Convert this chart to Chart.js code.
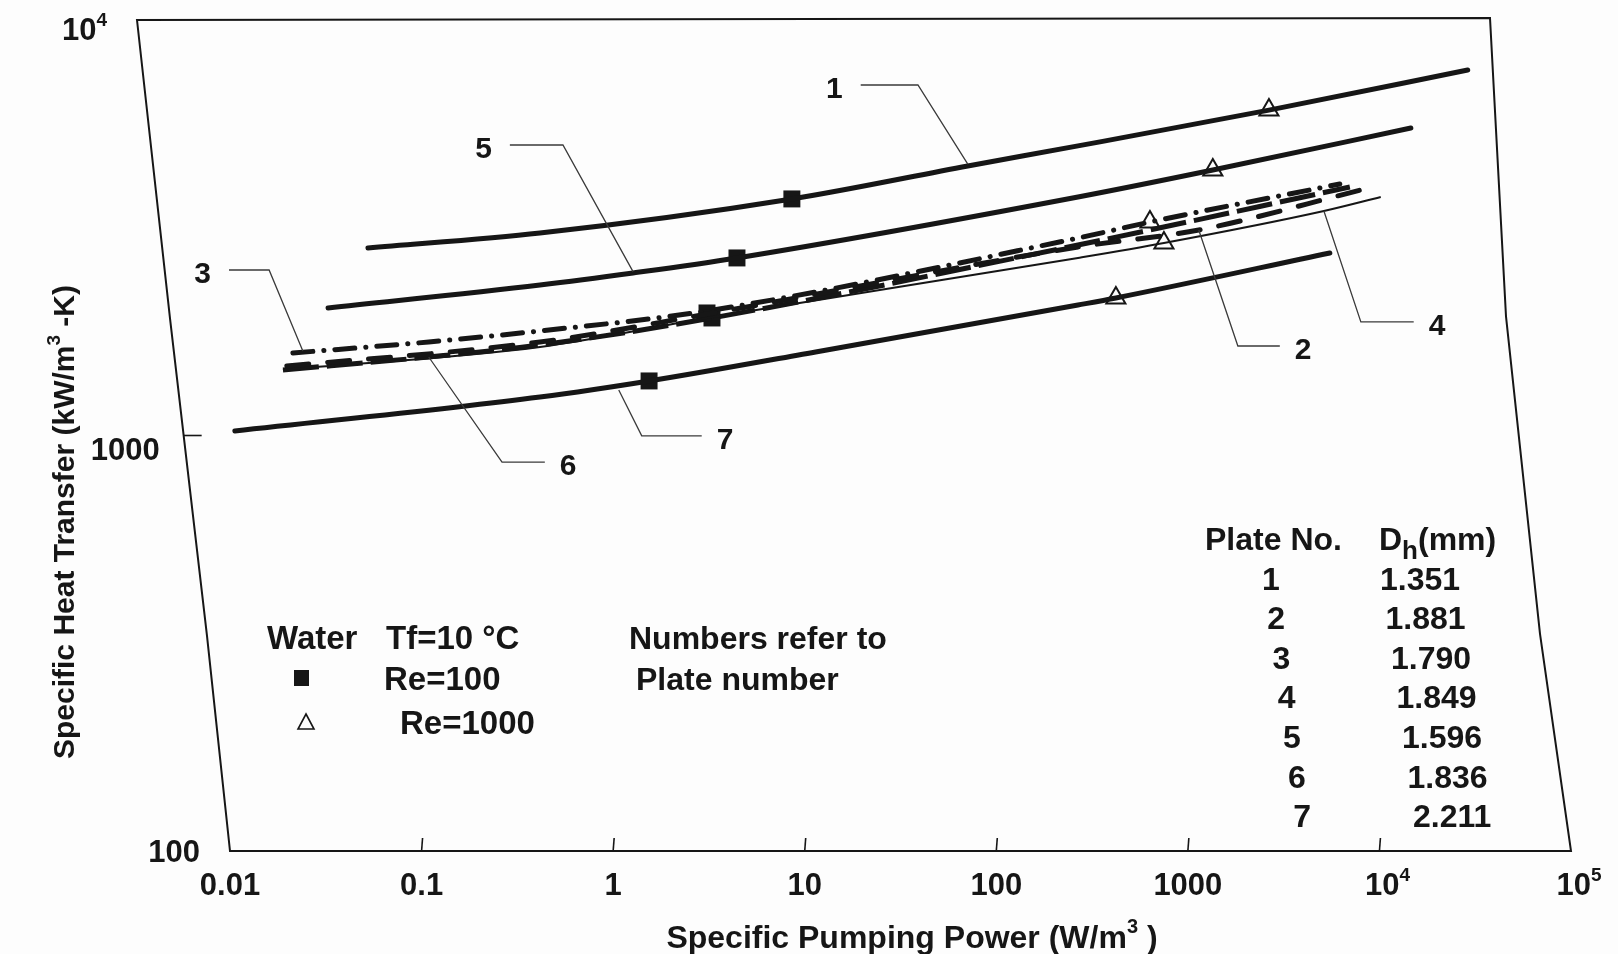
<!DOCTYPE html>
<html>
<head>
<meta charset="utf-8">
<title>Specific heat transfer vs pumping power</title>
<script src="https://cdn.jsdelivr.net/npm/chart.js@4.4.1/dist/chart.umd.min.js"></script>
<style>
  html, body { margin: 0; padding: 0; background: #fdfdfd; }
  #grafico { display: block; }
</style>
</head>
<body>
<canvas id="grafico" width="1618" height="954"></canvas>
<script>
// Curves (x = W/m3, y = kW/m3-K)
const plate1X = [0.0525, 0.415, 8.57, 71, 267, 2650, 28900];
const plate1Y = [2826, 3072, 3710, 4453, 4977, 6070, 7580];
const plate5X = [0.0325, 0.415, 1.27, 4.43, 267, 1350, 14590];
const plate5Y = [2028, 2302, 2461, 2675, 3750, 4355, 5497];
const plate3X = [0.0213, 0.109, 0.415, 3.09, 267, 634, 6210];
const plate3Y = [1580, 1679, 1785, 1994, 2987, 3264, 4030];
const plate2X = [0.0198, 0.415, 3.09, 267, 1140, 8000];
const plate2Y = [1469, 1679, 1960, 2843, 3123, 3898];
const plate6X = [0.0189, 0.109, 0.415, 3.28, 267, 7010];
const plate6Y = [1438, 1545, 1651, 1918, 2873, 3963];
const plate4X = [0.0189, 0.415, 3.09, 267, 750, 5130, 10160];
const plate4Y = [1438, 1633, 1918, 2675, 2906, 3470, 3750];
const plate7X = [0.0106, 0.415, 1.54, 11.4, 267, 421, 5510];
const plate7Y = [1025, 1238, 1353, 1589, 2061, 2143, 2750];

// Markers: filled squares Re=100, open triangles Re=1000
const re100X = [8.57, 4.43, 3.09, 3.28, 1.54];
const re100Y = [3710, 2675, 1972, 1918, 1353];
const re1000X = [2650, 1350, 634, 750, 421];
const re1000Y = [6070, 4355, 3264, 2906, 2143];

// Axis ticks
const xTickValues = [0.01, 0.1, 1, 10, 100, 1000, 1e4, 1e5];
const xTickLabels = ['0.01', '0.1', '1', '10', '100', '1000', '10^4', '10^5'];
const yTickValues = [100, 1000, 1e4];
const yTickLabels = ['100', '1000', '10^4'];

// Curve call-outs (leader lines in data coordinates)
const leaderLabels = ['1', '5', '3', '6', '7', '2', '4'];
const leaderSide = ['start', 'start', 'start', 'end', 'end', 'end', 'end'];
const leaderPaths = [
    [[19.6, 6976], [39, 6976], [71, 4500]],
    [[0.289, 5002], [0.547, 5002], [1.27, 2480]],
    [[0.00988, 2502], [0.016, 2502], [0.024, 1597]],
    [[0.109, 1545], [0.263, 863], [0.44, 863]],
    [[1.07, 1287], [1.41, 998], [2.9, 998]],
    [[1140, 3123], [1824, 1642], [3020, 1642]],
    [[5130, 3470], [8000, 1876], [15100, 1876]]
];

// Plate table
const plateNo = ['1', '2', '3', '4', '5', '6', '7'];
const plateDh = ['1.351', '1.881', '1.790', '1.849', '1.596', '1.836', '2.211'];

const INK = '#161616';
const FONT = '"Liberation Sans", Arial, Helvetica, sans-serif';

function pts(xs, ys) {
    return xs.map((x, i) => ({ x: x, y: ys[i] }));
}

function curva(label, xs, ys, width, dash, cap) {
    return {
        label: label,
        data: pts(xs, ys),
        borderColor: INK,
        borderWidth: width,
        borderDash: dash,
        borderCapStyle: cap,
        pointRadius: 0,
        fill: false,
        cubicInterpolationMode: 'monotone',
        clip: false
    };
}

function setFont(ctx, size) {
    ctx.font = 'bold ' + size + 'px ' + FONT;
}

// split "10^4" into base + superscript, "D_h" into base + subscript
function parseRich(txt) {
    const parts = [];
    const re = /([\^_])(\w)/g;
    let last = 0, m;
    while ((m = re.exec(txt)) !== null) {
        if (m.index > last) parts.push([txt.slice(last, m.index), 0]);
        parts.push([m[2], m[1] === '^' ? 1 : -1]);
        last = re.lastIndex;
    }
    if (last < txt.length) parts.push([txt.slice(last), 0]);
    return parts;
}

// y is the vertical centre of the capitals
function drawRich(ctx, txt, x, y, size, align) {
    const parts = parseRich(txt);
    const small = p => p[1] === 1 ? Math.round(size * 0.62) : (p[1] === -1 ? Math.round(size * 0.8) : size);
    let total = 0;
    parts.forEach(p => {
        setFont(ctx, small(p));
        total += ctx.measureText(p[0]).width;
    });
    let cx = align === 'center' ? x - total / 2 : (align === 'right' ? x - total : x);
    const base = y + size * 0.36;
    ctx.textAlign = 'left';
    ctx.textBaseline = 'alphabetic';
    parts.forEach(p => {
        setFont(ctx, small(p));
        const dy = p[1] === 1 ? -size * 0.45 : (p[1] === -1 ? size * 0.3 : 0);
        ctx.fillText(p[0], cx, base + dy);
        cx += ctx.measureText(p[0]).width;
    });
}

// the scanned frame leans: offset of left/right edges from top (t=0) to bottom (t=1)
const shearLeft = [[0, -93], [0.359, -60], [0.741, -23], [1, 0]];
const shearRight = [[0, -81], [0.359, -65], [0.741, -31], [1, 0]];
function shearAt(tab, t) {
    for (let i = 1; i < tab.length; i++) {
        if (t <= tab[i][0]) {
            const a = tab[i - 1], b = tab[i];
            return a[1] + (b[1] - a[1]) * (t - a[0]) / (b[0] - a[0]);
        }
    }
    return tab[tab.length - 1][1];
}

const molduraPlugin = {
    id: 'moldura',
    afterDraw(chart) {
        const ctx = chart.ctx;
        const area = chart.chartArea;
        const xs = chart.scales.x, ys = chart.scales.y;
        const h = area.bottom - area.top;
        const tOf = py => (py - area.top) / h;

        ctx.save();
        ctx.strokeStyle = INK;
        ctx.fillStyle = INK;
        ctx.lineWidth = 2;

        // frame
        ctx.beginPath();
        shearLeft.forEach((s, i) => {
            const px = area.left + s[1], py = area.top + s[0] * h;
            if (i === 0) ctx.moveTo(px, py); else ctx.lineTo(px, py);
        });
        ctx.lineTo(area.right, area.bottom);
        for (let i = shearRight.length - 2; i >= 0; i--) {
            ctx.lineTo(area.right + shearRight[i][1], area.top + shearRight[i][0] * h - 2);
        }
        ctx.closePath();
        ctx.stroke();

        // x ticks
        ctx.lineWidth = 1.6;
        xTickValues.slice(1, -1).forEach(v => {
            const px = xs.getPixelForValue(v);
            ctx.beginPath();
            ctx.moveTo(px, area.bottom);
            ctx.lineTo(px + 1, area.bottom - 13);
            ctx.stroke();
        });
        // y tick at 1000
        yTickValues.slice(1, -1).forEach(v => {
            const py = ys.getPixelForValue(v);
            const xl = area.left + shearAt(shearLeft, tOf(py));
            ctx.beginPath();
            ctx.moveTo(xl, py);
            ctx.lineTo(xl + 18, py);
            ctx.stroke();
        });

        // tick labels
        xTickValues.forEach((v, i) => {
            drawRich(ctx, xTickLabels[i], xs.getPixelForValue(v) + (i > 5 ? 8 : 0), area.bottom + 33, 31, 'center');
        });
        yTickValues.forEach((v, i) => {
            const py = ys.getPixelForValue(v);
            const xl = area.left + shearAt(shearLeft, tOf(py));
            const gap = i === 1 ? 24 : 30;
            drawRich(ctx, yTickLabels[i], xl - gap, py + (i === 0 ? 0 : (i === 1 ? 13 : 9)), 31, 'right');
        });

        // axis titles
        drawRich(ctx, 'Specific Pumping Power (W/m^3 )', 912, area.bottom + 85, 32, 'center');
        ctx.save();
        ctx.translate(63, 522);
        ctx.rotate(-Math.PI / 2);
        drawRich(ctx, 'Specific Heat Transfer (kW/m^3 -K)', 0, 0, 30, 'center');
        ctx.restore();

        // leader lines and curve numbers
        leaderPaths.forEach((path, i) => {
            ctx.strokeStyle = '#3a3a3a';
            ctx.lineWidth = 1.3;
            ctx.beginPath();
            path.forEach((p, j) => {
                const px = xs.getPixelForValue(p[0]), py = ys.getPixelForValue(p[1]);
                if (j === 0) ctx.moveTo(px, py); else ctx.lineTo(px, py);
            });
            ctx.stroke();
            ctx.fillStyle = INK;
            if (leaderSide[i] === 'start') {
                const p = path[0];
                drawRich(ctx, leaderLabels[i], xs.getPixelForValue(p[0]) - 18, ys.getPixelForValue(p[1]) + 2, 30, 'right');
            } else {
                const p = path[path.length - 1];
                drawRich(ctx, leaderLabels[i], xs.getPixelForValue(p[0]) + 15, ys.getPixelForValue(p[1]) + 2, 30, 'left');
            }
        });

        // legend block
        ctx.fillStyle = INK;
        drawRich(ctx, 'Water', 267, 637, 33, 'left');
        drawRich(ctx, 'Tf=10 \u00b0C', 386, 637, 33, 'left');
        ctx.fillRect(294, 670, 15, 16);
        drawRich(ctx, 'Re=100', 384, 678, 33, 'left');
        ctx.lineWidth = 1.6;
        ctx.strokeStyle = INK;
        ctx.beginPath();
        ctx.moveTo(306, 714);
        ctx.lineTo(314, 729);
        ctx.lineTo(298, 729);
        ctx.closePath();
        ctx.stroke();
        drawRich(ctx, 'Re=1000', 400, 722, 33, 'left');
        drawRich(ctx, 'Numbers refer to', 629, 637, 32, 'left');
        drawRich(ctx, 'Plate number', 636, 678, 32, 'left');

        // plate table
        drawRich(ctx, 'Plate No.', 1205, 538, 32, 'left');
        drawRich(ctx, 'D_h(mm)', 1379, 538, 32, 'left');
        plateNo.forEach((n, i) => {
            const py = 578 + i * 39.6;
            drawRich(ctx, n, 1271 + i * 5.2, py, 32, 'center');
            drawRich(ctx, plateDh[i], 1380 + i * 5.5, py, 32, 'left');
        });
        ctx.restore();
    }
};

const ctx = document.getElementById('grafico').getContext('2d');
const grafico = new Chart(ctx, {
    type: 'line',
    data: {
        datasets: [
            curva('Plate 4', plate4X, plate4Y, 2, [], 'butt'),
            curva('Plate 2', plate2X, plate2Y, 5, [22, 19], 'round'),
            curva('Plate 6', plate6X, plate6Y, 5, [36, 8], 'butt'),
            curva('Plate 3', plate3X, plate3Y, 5, [20, 11, 0.1, 11], 'round'),
            curva('Plate 7', plate7X, plate7Y, 5, [], 'round'),
            curva('Plate 5', plate5X, plate5Y, 5, [], 'round'),
            curva('Plate 1', plate1X, plate1Y, 5, [], 'round'),
            {
                label: 'Re=100',
                data: pts(re100X, re100Y),
                showLine: false,
                pointStyle: 'rect',
                pointRadius: 12,
                backgroundColor: INK,
                borderColor: INK,
                borderWidth: 0,
                clip: false
            },
            {
                label: 'Re=1000',
                data: pts(re1000X, re1000Y),
                showLine: false,
                pointStyle: 'triangle',
                pointRadius: 11,
                backgroundColor: '#fdfdfd',
                borderColor: INK,
                borderWidth: 2,
                clip: false
            }
        ]
    },
    options: {
        responsive: false,
        animation: false,
        events: [],
        layout: { padding: { left: 230, right: 47, top: 20, bottom: 103 } },
        scales: {
            x: { type: 'logarithmic', min: 0.01, max: 1e5, display: false },
            y: { type: 'logarithmic', min: 100, max: 1e4, display: false }
        },
        plugins: {
            legend: { display: false },
            tooltip: { enabled: false }
        }
    },
    plugins: [molduraPlugin]
});
</script>
</body>
</html>
